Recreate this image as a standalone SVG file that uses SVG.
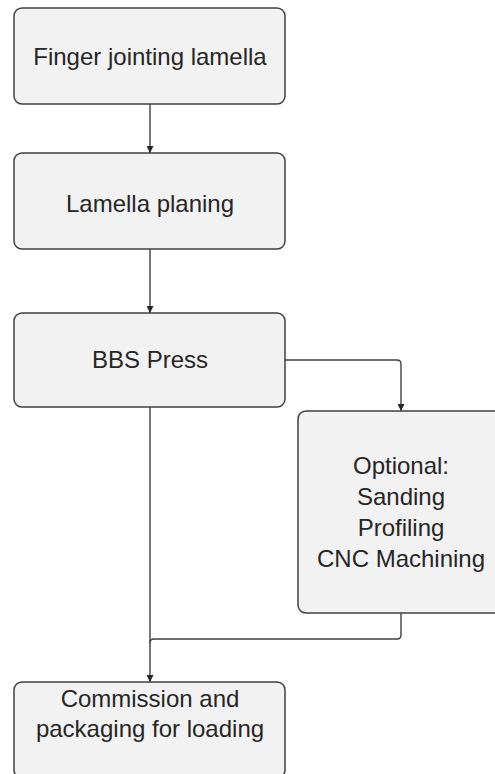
<svg xmlns="http://www.w3.org/2000/svg" width="495" height="774" viewBox="0 0 495 774">
<defs>
<style>
.box{fill:#f2f2f2;stroke:#404040;stroke-width:1.5}
.lbl{font-family:"Liberation Sans",Arial,sans-serif;font-size:24px;fill:#262626;text-anchor:middle}
.con{fill:none;stroke:#404040;stroke-width:1.4}
</style>
<marker id="arr" viewBox="0 0 10 10" refX="10" refY="5" markerWidth="7" markerHeight="7" markerUnits="userSpaceOnUse" orient="auto">
<path d="M0,0 L10,5 L0,10 z" fill="#262626"/>
</marker>
</defs>
<rect width="495" height="774" fill="#ffffff"/>
<g id="connectors">
<path class="con" d="M150,104 V153" marker-end="url(#arr)"/>
<path class="con" d="M150,249 V313" marker-end="url(#arr)"/>
<path class="con" d="M285,360 H397 Q401,360 401,364 V411" marker-end="url(#arr)"/>
<path class="con" d="M150,407 V682" marker-end="url(#arr)"/>
<path class="con" d="M401,613 V635 Q401,639 397,639 H154 Q150,639 150,643"/>
</g>
<g id="n1">
<rect class="box" x="14" y="8" width="271" height="96" rx="8"/>
<text class="lbl" x="150" y="65">Finger jointing lamella</text>
</g>
<g id="n2">
<rect class="box" x="14" y="153" width="271" height="96" rx="8"/>
<text class="lbl" x="150" y="212">Lamella planing</text>
</g>
<g id="n3">
<rect class="box" x="14" y="313" width="271" height="94" rx="8"/>
<text class="lbl" x="150" y="368">BBS Press</text>
</g>
<g id="n4">
<rect class="box" x="298" y="411" width="210" height="202" rx="8"/>
<text class="lbl" x="401" y="474">Optional:</text>
<text class="lbl" x="401" y="505">Sanding</text>
<text class="lbl" x="401" y="536">Profiling</text>
<text class="lbl" x="401" y="567">CNC Machining</text>
</g>
<g id="n5">
<rect class="box" x="14" y="682" width="271" height="96" rx="8"/>
<text class="lbl" x="150" y="707">Commission and</text>
<text class="lbl" x="150" y="737">packaging for loading</text>
</g>
</svg>
